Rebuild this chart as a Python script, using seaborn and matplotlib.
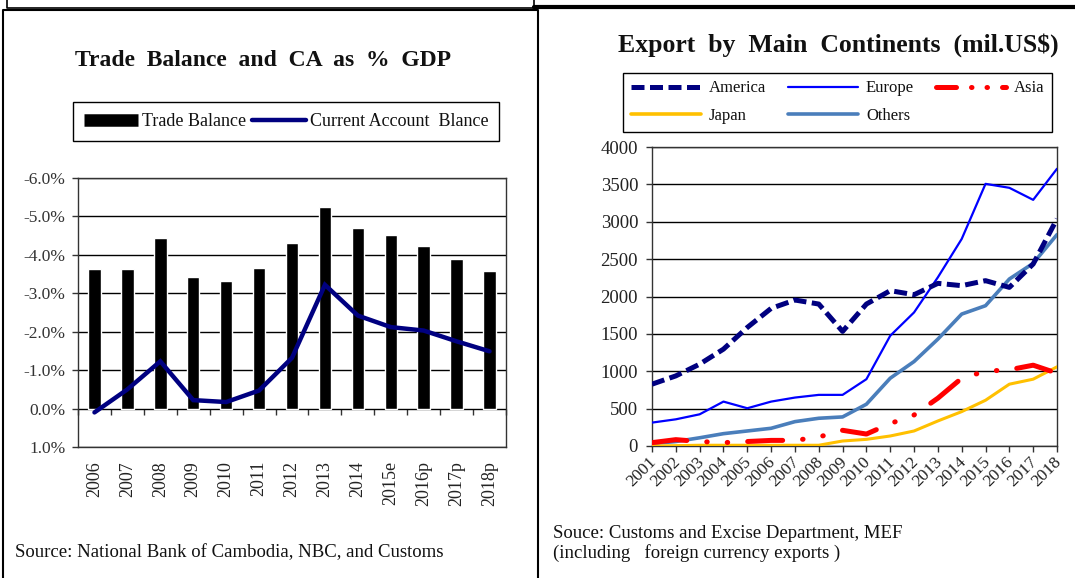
import numpy as np
import pandas as pd
import matplotlib
matplotlib.use('Agg')
import matplotlib.pyplot as plt
from matplotlib.lines import Line2D
import matplotlib.transforms as mtransforms
import seaborn as sns

# left chart data (% of GDP, deficits are negative)
tb_years = ['2006', '2007', '2008', '2009', '2010', '2011', '2012', '2013',
            '2014', '2015e', '2016p', '2017p', '2018p']
trade_balance = [-3.62, -3.62, -4.45, -3.42, -3.32, -3.65, -4.32, -5.25,
                 -4.71, -4.51, -4.24, -3.88, -3.59]
current_account = [0.10, -0.50, -1.23, -0.22, -0.17, -0.47, -1.32, -3.22,
                   -2.42, -2.12, -2.03, -1.75, -1.49]

# right chart data (mil. US$)
exp_years = list(range(2001, 2019))
america = [827, 938, 1095, 1296, 1586, 1841, 1953, 1899, 1533, 1899, 2078, 2024,
           2176, 2145, 2212, 2122, 2435, 3038]
europe = [313, 357, 424, 594, 505, 594, 648, 684, 684, 894, 1475, 1787,
          2257, 2770, 3507, 3454, 3293, 3709]
asia = [45, 85, 60, 45, 60, 75, 75, 120, 210, 160, 300, 415,
        640, 907, 1000, 1020, 1081, 974]
japan = [0, 5, 10, 10, 10, 10, 10, 10, 67, 89, 134, 201,
         335, 460, 612, 827, 894, 1059]
others = [31, 60, 110, 165, 201, 237, 326, 371, 389, 559, 907, 1130,
          1430, 1765, 1877, 2234, 2444, 2828]

sns.set_theme(style='white')
plt.rcParams['font.family'] = ['Liberation Serif', 'DejaVu Serif']
plt.rcParams['text.color'] = '#111111'

W, H = 1075, 578
fig = plt.figure(figsize=(W / 100, H / 100), dpi=100)


def px_rect(x0, y0, x1, y1):
    # pixel box (top-left origin) -> figure fraction rect
    return [x0 / W, 1 - y1 / H, (x1 - x0) / W, (y1 - y0) / H]


# ---------------- left: trade balance and CA ----------------
ax1 = fig.add_axes(px_rect(78, 178, 506, 447))
df_tb = pd.DataFrame({'year': tb_years, 'tb': trade_balance})
sns.barplot(data=df_tb, x='year', y='tb', color='black', width=0.38,
            saturation=1, ax=ax1, zorder=3)
sns.lineplot(x=np.arange(len(tb_years)), y=current_account, color='#000080',
             lw=3.2, ax=ax1, zorder=4, solid_joinstyle='miter')
ax1.set_ylim(1, -6)
ax1.set_xlim(-0.5, len(tb_years) - 0.5)
ax1.set_yticks(np.arange(-6, 1.5, 1))
ax1.set_yticklabels([f'{abs(v) if v == 0 else v:.1f}%' for v in np.arange(-6, 1.5, 1)])
ax1.yaxis.grid(True, color='black', lw=1, zorder=0)
ax1.set_axisbelow(True)
ax1.set_xlabel('')
ax1.set_ylabel('')
ax1.tick_params(axis='x', length=0, pad=10, labelsize=13, rotation=90,
                labelcolor='#222222')
ax1.tick_params(axis='y', length=4, width=1, direction='out', left=True,
                labelsize=12.5, pad=5, colors='#333333', labelcolor='#333333')
for lab in ax1.get_xticklabels():
    lab.set_va('top')
for s in ax1.spines.values():
    s.set_color('#333333')
    s.set_linewidth(1)
# category tick marks along the zero line
sec = ax1.secondary_xaxis(1 / 7)
sec.set_xticks(np.arange(-0.5, len(tb_years), 1))
sec.tick_params(length=4, width=1, labelbottom=False, colors='#333333')
sec.spines['bottom'].set_visible(False)

fig.text(263 / W, 1 - 61 / H, 'Trade  Balance  and  CA  as  %  GDP', ha='center',
         va='center', fontsize=17, fontweight='bold')
h_tb = Line2D([], [], color='black', lw=9, solid_capstyle='butt')
h_ca = Line2D([], [], color='#000080', lw=3.2, solid_capstyle='round')
fig.legend([h_tb, h_ca], ['Trade Balance', 'Current Account  Blance'],
           loc='upper left', ncol=2, mode='expand',
           bbox_to_anchor=(73 / W, 1 - 139 / H, (499 - 73) / W, 37 / H),
           frameon=True, fancybox=False, edgecolor='black', framealpha=1,
           fontsize=13, handlelength=3.0, handletextpad=0.2, columnspacing=0.6,
           borderpad=0.6, borderaxespad=0)
fig.text(15 / W, 1 - 553 / H, 'Source: National Bank of Cambodia, NBC, and Customs',
         ha='left', va='center', fontsize=13.5)

# ---------------- right: exports by continent ----------------
ax2 = fig.add_axes(px_rect(652, 147, 1057, 446))
sns.lineplot(x=exp_years, y=others, color='#4A7EBB', lw=2.6, ax=ax2, zorder=3)
sns.lineplot(x=exp_years, y=japan, color='#FFC000', lw=2.2, ax=ax2, zorder=3)
sns.lineplot(x=exp_years, y=asia, color='#FF0000', lw=3.6, ax=ax2, zorder=4,
             linestyle=(0, (7, 4, 0.1, 4, 0.1, 4)), dash_capstyle='round')
sns.lineplot(x=exp_years, y=europe, color='#0000FF', lw=1.6, ax=ax2, zorder=5)
sns.lineplot(x=exp_years, y=america, color='#000080', lw=3.6, ax=ax2, zorder=6,
             linestyle=(0, (2.6, 1.1)))
ax2.set_xlim(2001, 2018)
ax2.set_ylim(0, 4000)
ax2.set_xticks(exp_years)
ax2.set_yticks(np.arange(0, 4001, 500))
ax2.yaxis.grid(True, color='black', lw=1, zorder=0)
ax2.set_axisbelow(True)
ax2.tick_params(axis='x', length=4, width=1, direction='out', bottom=True,
                labelsize=12.5, pad=6, colors='#333333', labelcolor='#222222')
ax2.tick_params(axis='y', length=4, width=1, direction='out', left=True,
                labelsize=13.5, pad=6, colors='#333333', labelcolor='#222222')
offset = mtransforms.ScaledTranslation(2 / 100, 0, fig.dpi_scale_trans)
for lab in ax2.get_xticklabels():
    lab.set_rotation(45)
    lab.set_ha('right')
    lab.set_va('center')
    lab.set_rotation_mode('anchor')
    lab.set_transform(lab.get_transform() + offset)
for s in ax2.spines.values():
    s.set_color('#333333')
    s.set_linewidth(1)

fig.text(838 / W, 1 - 45 / H, 'Export  by  Main  Continents  (mil.US$)', ha='center',
         va='center', fontsize=18.5, fontweight='bold')
handles = [
    Line2D([], [], color='#000080', lw=3.6, linestyle=(0, (2.6, 1.1))),
    Line2D([], [], color='#0000FF', lw=1.6),
    Line2D([], [], color='#FF0000', lw=3.6, linestyle=(0, (4, 3, 0.1, 3, 0.1, 3)),
           dash_capstyle='round'),
    Line2D([], [], color='#FFC000', lw=2.6),
    Line2D([], [], color='#4A7EBB', lw=2.6),
]
labels = ['America', 'Europe', 'Asia', 'Japan', 'Others']
# legend fills rows first: reorder for ncol=3 column-major layout
order = [0, 3, 1, 4, 2]
fig.legend([handles[i] for i in order], [labels[i] for i in order],
           loc='upper left', ncol=3, mode='expand',
           bbox_to_anchor=(623 / W, 1 - 131 / H, (1052 - 623) / W, 58 / H),
           frameon=True, fancybox=False, edgecolor='black', framealpha=1,
           fontsize=12, handlelength=4.2, handletextpad=0.5, columnspacing=1.0,
           borderpad=0.45, labelspacing=0.7, borderaxespad=0)
fig.text(553 / W, 1 - 533 / H, 'Souce: Customs and Excise Department, MEF',
         ha='left', va='center', fontsize=13.5)
fig.text(553 / W, 1 - 553 / H, '(including   foreign currency exports )',
         ha='left', va='center', fontsize=13.5)

# panel frames
def fline(xs, ys, lw=1.5, color='black'):
    fig.add_artist(Line2D([x / W for x in xs], [1 - y / H for y in ys],
                          lw=lw, color=color, transform=fig.transFigure))

fline([2.5, 2.5, 537.5, 537.5], [578, 9.5, 9.5, 578])
fline([6.5, 6.5, 534, 534], [0, 7.5, 7.5, 0], lw=1.2)
fline([534, 1075], [6.5, 6.5], lw=3)

fig.savefig('out.png', dpi=100)
